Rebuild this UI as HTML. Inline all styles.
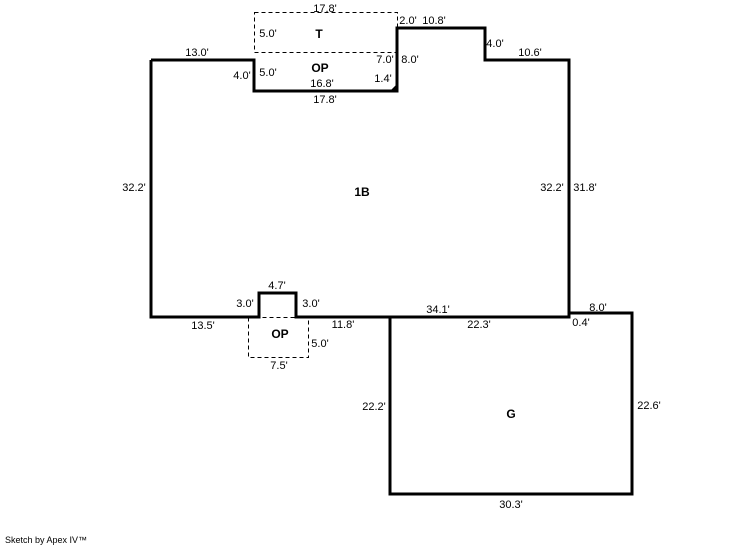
<html><body style="margin:0;background:#fff">
<svg width="746" height="547" xmlns="http://www.w3.org/2000/svg" font-family="Liberation Sans, sans-serif" font-size="11">
<g fill="none" stroke="#000" stroke-width="1" stroke-dasharray="4,3">
<rect x="254.5" y="12.5" width="143" height="40"/>
<rect x="248.5" y="317.5" width="60" height="40"/>
</g>
<g fill="none" stroke="#000" stroke-width="3" stroke-linejoin="miter">
<polyline points="151,60 254,60 254,91 397,91 397,28 485,28 485,60 569,60 569,317 296,317 296,293 259,293 259,317 151,317 151,60"/>
<polyline points="390,317 390,494 632,494 632,313 569,313 569,317"/>
</g>
<polygon points="390,91 397,91 397,84" fill="#000"/>
<g text-anchor="middle">
<text x="325" y="12">17.8'</text>
<text x="408" y="24">2.0'</text>
<text x="434" y="24">10.8'</text>
<text x="495" y="47">4.0'</text>
<text x="530" y="56">10.6'</text>
<text x="197" y="56">13.0'</text>
<text x="268" y="37">5.0'</text>
<text x="319" y="38" font-weight="bold" font-size="12">T</text>
<text x="385" y="63">7.0'</text>
<text x="410" y="63">8.0'</text>
<text x="242" y="79">4.0'</text>
<text x="268" y="76">5.0'</text>
<text x="320" y="72" font-weight="bold" font-size="12">OP</text>
<text x="322" y="87">16.8'</text>
<text x="383" y="82">1.4'</text>
<text x="325" y="103">17.8'</text>
<text x="134" y="191">32.2'</text>
<text x="362" y="196" font-weight="bold" font-size="12">1B</text>
<text x="552" y="191">32.2'</text>
<text x="585" y="191">31.8'</text>
<text x="277" y="289">4.7'</text>
<text x="245" y="307">3.0'</text>
<text x="311" y="307">3.0'</text>
<text x="438" y="313">34.1'</text>
<text x="598" y="311">8.0'</text>
<text x="203" y="329">13.5'</text>
<text x="343" y="328">11.8'</text>
<text x="479" y="328">22.3'</text>
<text x="581" y="326">0.4'</text>
<text x="280" y="338" font-weight="bold" font-size="12">OP</text>
<text x="320" y="347">5.0'</text>
<text x="279" y="369">7.5'</text>
<text x="374" y="410">22.2'</text>
<text x="511" y="418" font-weight="bold" font-size="12">G</text>
<text x="649" y="409">22.6'</text>
<text x="511" y="508">30.3'</text>
</g>
<text x="5" y="543" font-size="9">Sketch by Apex IV™</text>
</svg>
</body></html>
